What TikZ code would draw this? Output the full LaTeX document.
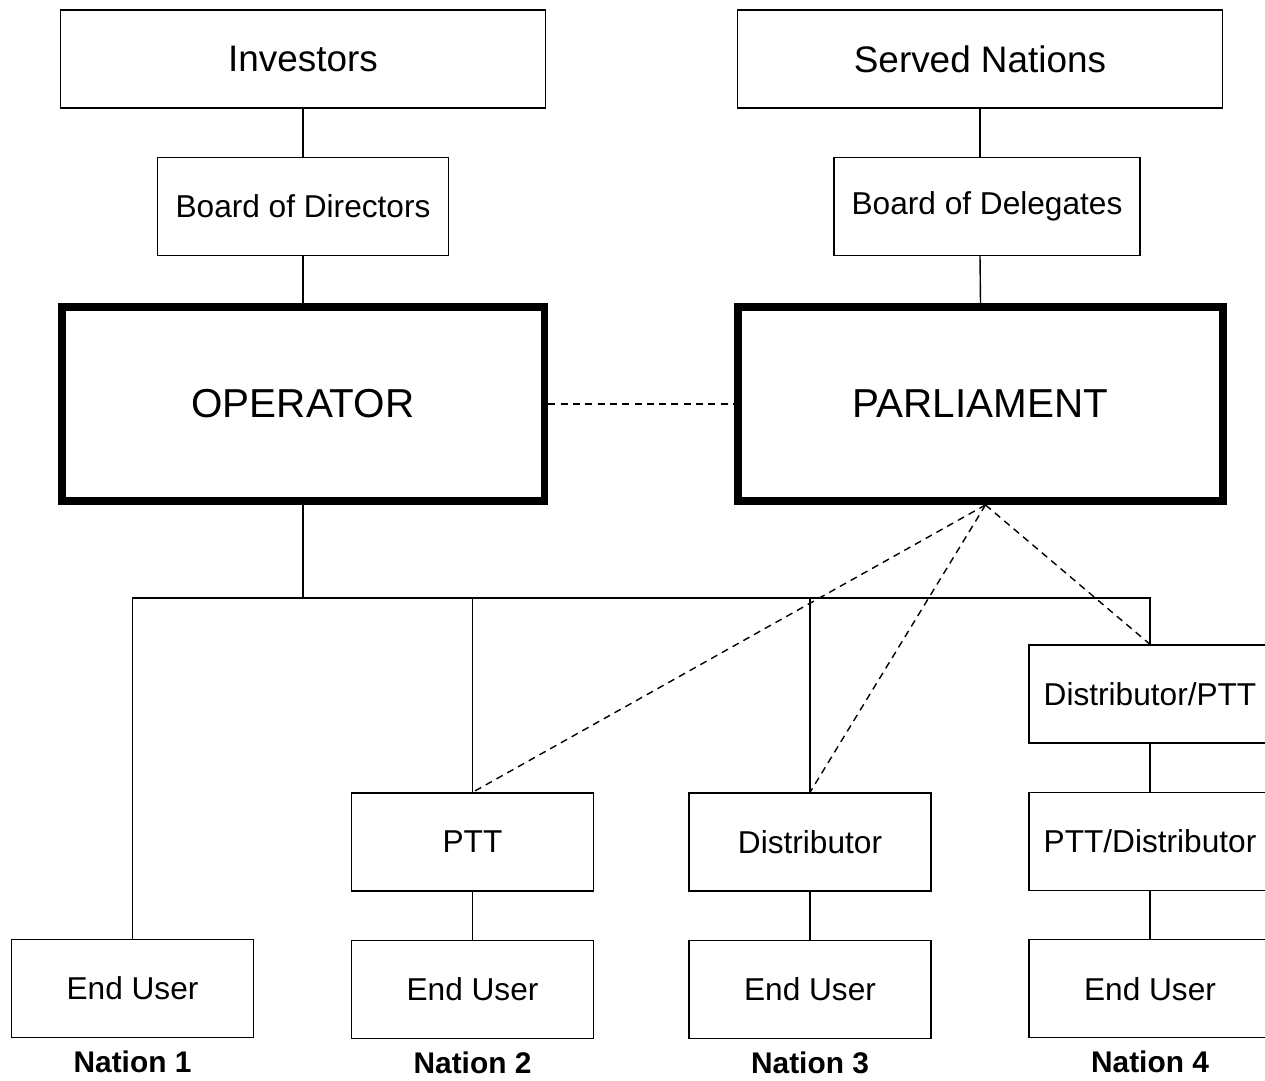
\documentclass[tikz,border=0pt]{standalone}
\usepackage{fontspec}
\setmainfont{Liberation Sans}
\usetikzlibrary{positioning}

\begin{document}
\begin{tikzpicture}[
    x=0.02cm, y=-0.02cm,
    node distance=0.96cm,
    box/.style={rectangle, draw=black, line width=0.8pt, minimum width=4.84cm, minimum height=1.96cm, inner sep=0pt, font=\fontsize{18}{20}\selectfont},
    topbox/.style={box, minimum width=9.7cm, font=\fontsize{21}{24}\selectfont},
    bigbox/.style={rectangle, draw=black, line width=4.5pt, minimum width=9.66cm, minimum height=3.88cm, font=\fontsize{23}{26}\selectfont},
    nation/.style={inner sep=0pt, anchor=base, font=\bfseries\fontsize{17}{20}\selectfont},
    link/.style={line width=0.8pt},
    dlink/.style={line width=0.8pt, dash pattern=on 4pt off 3pt}
    ]
    \useasboundingbox (0,0) rectangle (1265,1080);
    \node (inv) [topbox] at (303,59) {Investors};
    \node (bod) [box, minimum width=5.82cm, below=of inv] {Board of Directors};
    \node (served) [topbox] at (980,59) {Served Nations};
    \node (bodel) [box, minimum width=6.12cm, below=of served, xshift=0.14cm] {Board of Delegates};
    \node (oper) [bigbox] at (303,404) {OPERATOR};
    \node (parl) [bigbox, minimum width=9.7cm] at (980.5,404) {PARLIAMENT};
    \node (dptt) [box] at (1150,694) {Distributor/PTT};
    \node (pttd) [box, below=of dptt] {PTT/Distributor};
    \node (ptt) [box] at (472.5,842) {PTT};
    \node (dist) [box] at (810,842) {Distributor};
    \node (eu1) [box] at (132.5,988.5) {End User};
    \node (eu2) [box, below=of ptt] {End User};
    \node (eu3) [box, below=of dist] {End User};
    \node (eu4) [box, below=of pttd] {End User};
    \node (n1) [nation] at ([yshift=-0.68cm]eu1.south) {Nation 1};
    \node (n2) [nation] at ([yshift=-0.68cm]eu2.south) {Nation 2};
    \node (n3) [nation] at ([yshift=-0.68cm]eu3.south) {Nation 3};
    \node (n4) [nation] at ([yshift=-0.68cm]eu4.south) {Nation 4};
    \coordinate (bus) at ([yshift=-1.86cm]oper.south);
    \coordinate (apex) at ([xshift=0.1cm]parl.south);
    \draw[link] (inv) -- (bod);
    \draw[link] (bod) -- (oper);
    \draw[link] (served.south) -- (served.south |- bodel.north);
    \draw[link] (served.south |- bodel.south) -- (parl.north);
    \draw[dlink] (oper.east) -- (parl.west);
    \draw[link] (oper.south) -- (bus);
    \draw[link] (eu1.north) |- (dptt.north |- bus) -- (dptt.north);
    \draw[link] (ptt.north) -- (ptt.north |- bus);
    \draw[link] (dist.north) -- (dist.north |- bus);
    \draw[link] (ptt) -- (eu2);
    \draw[link] (dist) -- (eu3);
    \draw[link] (dptt) -- (pttd);
    \draw[link] (pttd) -- (eu4);
    \draw[dlink] (apex) -- (ptt.north);
    \draw[dlink] (apex) -- (dist.north);
    \draw[dlink] (apex) -- (dptt.north);
  \end{tikzpicture}
\end{document}
